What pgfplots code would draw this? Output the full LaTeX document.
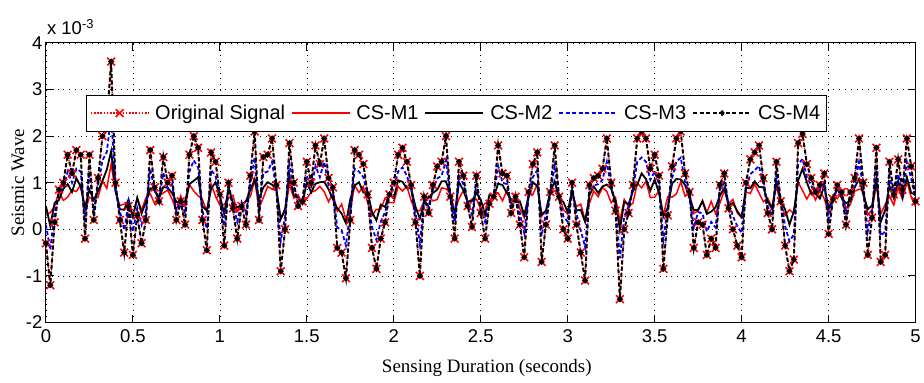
\documentclass[border=0pt]{standalone}
\usepackage{fontspec}
\setmainfont{Liberation Sans}
\newfontfamily\seriffont{Liberation Serif}
\usepackage{pgfplots}
\usepackage{pgfplotstable}
\pgfplotsset{compat=1.18}
\pgfplotstableread{
t O M1 M2 M3
0.000 -0.30 0.31 0.50 0.10
0.025 -1.20 0.36 0.07 -0.44
0.050 0.15 0.50 0.57 0.37
0.075 0.85 0.81 0.63 0.79
0.100 1.00 0.62 0.87 0.88
0.125 1.60 0.69 0.97 1.24
0.150 1.20 0.84 0.80 1.00
0.175 1.70 0.81 1.10 1.30
0.200 1.60 0.96 0.91 1.24
0.225 -0.20 0.38 0.47 0.16
0.250 1.60 0.69 0.85 1.24
0.275 0.20 0.64 0.63 0.40
0.300 1.10 0.69 0.82 0.94
0.325 2.00 1.04 1.04 1.48
0.350 2.30 0.88 1.28 1.66
0.375 3.60 1.40 1.68 2.44
0.400 1.00 0.80 0.83 0.88
0.425 0.20 0.51 0.43 0.40
0.450 -0.50 0.54 0.42 -0.02
0.475 0.50 0.52 0.64 0.58
0.500 -0.55 0.26 0.28 -0.05
0.525 0.30 0.66 0.68 0.46
0.550 -0.30 0.41 0.34 0.10
0.575 0.20 0.68 0.59 0.40
0.600 1.70 0.76 0.88 1.30
0.625 0.90 0.55 0.84 0.82
0.650 0.60 0.72 0.67 0.64
0.675 1.55 0.78 0.91 1.21
0.700 1.00 0.84 0.89 0.88
0.725 1.15 0.65 0.78 0.97
0.750 0.20 0.41 0.59 0.40
0.775 0.60 0.72 0.55 0.64
0.800 0.10 0.49 0.60 0.34
0.825 1.60 0.96 0.97 1.24
0.850 2.00 0.82 1.04 1.48
0.875 1.75 0.72 1.12 1.33
0.900 0.20 0.64 0.49 0.40
0.925 -0.45 0.38 0.40 0.01
0.950 1.65 0.97 0.87 1.27
0.975 1.45 0.71 1.01 1.15
1.000 0.75 0.52 0.72 0.73
1.025 -0.35 0.53 0.34 0.07
1.050 1.00 0.67 0.89 0.88
1.075 0.45 0.73 0.57 0.55
1.100 -0.20 0.38 0.47 0.16
1.125 0.50 0.47 0.52 0.58
1.150 0.10 0.62 0.60 0.34
1.175 1.15 0.70 0.84 0.97
1.200 2.10 1.06 1.07 1.54
1.225 0.20 0.46 0.65 0.40
1.250 1.55 0.68 0.90 1.21
1.275 1.60 0.92 1.01 1.24
1.300 1.95 0.86 0.96 1.45
1.325 0.95 0.83 0.86 0.85
1.350 -0.90 0.24 0.22 -0.26
1.375 0.00 0.37 0.44 0.28
1.400 1.85 0.97 1.15 1.39
1.425 1.00 0.67 0.73 0.88
1.450 0.50 0.74 0.68 0.58
1.475 0.60 0.54 0.55 0.64
1.500 1.45 0.66 1.01 1.15
1.525 1.00 0.80 0.79 0.88
1.550 1.80 0.83 0.98 1.36
1.575 1.40 0.92 1.01 1.12
1.600 1.95 0.81 1.02 1.45
1.625 1.10 0.59 0.86 0.94
1.650 0.90 0.78 0.64 0.82
1.675 -0.40 0.39 0.45 0.04
1.700 -0.50 0.54 0.34 -0.02
1.725 -1.05 0.21 0.13 -0.35
1.750 0.20 0.41 0.65 0.40
1.775 1.70 0.94 0.94 1.30
1.800 1.60 0.79 1.01 1.24
1.825 1.40 0.92 0.79 1.12
1.850 0.75 0.57 0.80 0.73
1.875 -0.40 0.29 0.37 0.04
1.900 -0.85 0.43 0.19 -0.23
1.925 -0.20 0.43 0.53 0.16
1.950 0.15 0.67 0.48 0.37
1.975 0.75 0.57 0.76 0.73
2.000 1.00 0.57 0.67 0.88
2.025 1.60 0.92 1.05 1.24
2.050 1.75 0.82 1.02 1.33
2.075 1.45 0.93 0.88 1.15
2.100 0.95 0.61 0.88 0.85
2.125 0.15 0.40 0.48 0.37
2.150 -1.00 0.40 0.23 -0.32
2.175 0.70 0.61 0.58 0.70
2.200 0.35 0.71 0.68 0.49
2.225 0.95 0.61 0.78 0.85
2.250 1.35 0.64 0.85 1.09
2.275 1.45 0.89 1.03 1.15
2.300 2.00 0.87 1.03 1.48
2.325 0.70 0.78 0.74 0.70
2.350 -0.20 0.38 0.31 0.16
2.375 1.45 0.66 1.01 1.15
2.400 1.15 0.83 0.84 0.97
2.425 0.50 0.57 0.59 0.58
2.450 0.05 0.65 0.61 0.31
2.475 1.15 0.65 0.78 0.97
2.500 0.35 0.44 0.64 0.49
2.525 -0.20 0.56 0.31 0.16
2.550 0.55 0.58 0.74 0.61
2.575 0.70 0.78 0.70 0.70
2.600 1.80 0.78 0.98 1.36
2.625 1.20 0.61 0.95 1.00
2.650 1.15 0.83 0.78 0.97
2.675 0.35 0.54 0.64 0.49
2.700 0.70 0.78 0.58 0.70
2.725 0.10 0.44 0.60 0.34
2.750 -0.60 0.25 0.31 -0.08
2.775 0.80 0.76 0.68 0.76
2.800 1.40 0.75 1.01 1.12
2.825 1.65 0.97 0.93 1.27
2.850 -0.70 0.28 0.32 -0.14
2.875 0.10 0.39 0.40 0.34
2.900 0.80 0.76 0.81 0.76
2.925 1.80 0.83 1.03 1.36
2.950 0.70 0.78 0.65 0.70
2.975 0.00 0.42 0.59 0.28
3.000 -0.20 0.33 0.37 0.16
3.025 1.00 0.80 0.83 0.88
3.050 0.10 0.49 0.40 0.34
3.075 -0.50 0.54 0.42 -0.02
3.100 -1.10 0.20 0.16 -0.38
3.125 0.95 0.56 0.73 0.85
3.150 1.10 0.82 0.92 0.94
3.175 1.15 0.70 0.78 0.97
3.200 1.30 0.90 0.92 1.06
3.225 1.95 0.81 0.96 1.45
3.250 1.00 0.57 0.87 0.88
3.275 0.40 0.68 0.61 0.52
3.300 -1.50 0.17 -0.01 -0.62
3.325 0.00 0.64 0.59 0.28
3.350 0.35 0.49 0.54 0.49
3.375 0.95 0.56 0.82 0.85
3.400 1.95 0.99 0.96 1.45
3.425 2.10 0.89 1.20 1.54
3.450 1.95 1.03 1.08 1.45
3.475 1.30 0.68 0.83 1.06
3.500 1.60 0.69 1.07 1.24
3.525 1.15 0.83 0.78 0.97
3.550 -0.85 0.30 0.28 -0.23
3.575 0.30 0.70 0.46 0.46
3.600 1.35 0.69 0.98 1.09
3.625 1.95 0.76 1.08 1.45
3.650 2.10 1.02 1.07 1.54
3.675 1.20 0.71 0.95 1.00
3.700 0.80 0.80 0.67 0.76
3.725 -0.40 0.34 0.41 0.04
3.750 0.15 0.40 0.42 0.37
3.775 0.10 0.62 0.60 0.34
3.800 -0.55 0.36 0.33 -0.05
3.825 -0.20 0.60 0.38 0.16
3.850 -0.40 0.34 0.47 0.04
3.875 0.95 0.56 0.72 0.85
3.900 1.20 0.84 0.89 1.00
3.925 0.45 0.56 0.51 0.55
3.950 0.00 0.64 0.57 0.28
3.975 -0.35 0.35 0.39 0.07
4.000 -0.60 0.25 0.26 -0.08
4.025 1.00 0.80 0.89 0.88
4.050 1.50 0.77 0.88 1.18
4.075 1.65 0.97 1.03 1.27
4.100 1.80 0.78 0.91 1.36
4.125 1.10 0.59 0.90 0.94
4.150 0.35 0.67 0.60 0.49
4.175 0.00 0.47 0.44 0.28
4.200 1.45 0.93 1.03 1.15
4.225 0.60 0.54 0.61 0.64
4.250 -0.35 0.30 0.43 0.07
4.275 -0.90 0.42 0.10 -0.26
4.300 -0.65 0.34 0.38 -0.11
4.325 1.85 1.01 1.05 1.39
4.350 2.05 0.83 1.30 1.51
4.375 1.40 0.65 1.01 1.12
4.400 1.10 0.82 0.76 0.94
4.425 0.80 0.63 0.77 0.76
4.450 0.95 0.83 0.66 0.85
4.475 1.20 0.66 0.93 1.00
4.500 -0.10 0.35 0.46 0.22
4.525 0.65 0.73 0.64 0.67
4.550 0.95 0.66 0.88 0.85
4.575 0.80 0.80 0.67 0.76
4.600 0.10 0.44 0.56 0.34
4.625 0.80 0.53 0.61 0.76
4.650 1.10 0.82 0.90 0.94
4.675 1.95 0.86 1.08 1.45
4.700 1.00 0.84 0.74 0.88
4.725 -0.55 0.31 0.43 -0.05
4.750 0.25 0.42 0.51 0.43
4.775 1.75 0.95 1.06 1.33
4.800 -0.70 0.33 0.16 -0.14
4.825 -0.55 0.53 0.41 -0.05
4.850 1.45 0.71 0.93 1.15
4.875 0.75 0.52 0.67 0.73
4.900 1.50 0.90 1.04 1.18
4.925 0.85 0.64 0.69 0.79
4.950 1.95 1.03 1.12 1.45
4.975 1.35 0.69 0.78 1.09
5.000 0.60 0.49 0.75 0.64
}\sigdata
\begin{document}
\begin{tikzpicture}
\path (-46bp,-60bp) rectangle (878bp,323bp);
\begin{axis}[
  name=ax,
  scale only axis, width=871bp, height=280bp,
  xmin=0, xmax=5, ymin=-2, ymax=4,
  xtick={0,0.5,1,1.5,2,2.5,3,3.5,4,4.5,5},
  xticklabels={0,0.5,1,1.5,2,2.5,3,3.5,4,4.5,5},
  ytick={-2,-1,0,1,2,3,4},
  yticklabels={-2,-1,0,1,2,3,4},
  tick align=inside, tick pos=both, major tick length=8bp,
  grid=major,
  grid style={black, line width=0.6bp, dash pattern=on 0.8bp off 5bp},
  axis line style={line width=0.9bp},
  every tick/.style={black, line width=0.9bp},
  tick label style={font=\fontsize{18.5bp}{20bp}\selectfont},
  xticklabel style={yshift=-4bp},
  xlabel={Sensing Duration (seconds)},
  ylabel={Seismic Wave},
  label style={font=\seriffont\fontsize{19bp}{22bp}\selectfont},
  xlabel style={at={(axis description cs:0.507,-0.161)}, anchor=center},
  ylabel style={at={(axis description cs:-0.032,0.5)}, anchor=center},
  legend columns=5,
  legend style={at={(rel axis cs:0.0459,0.814)}, anchor=north west,
    font=\fontsize{20bp}{24bp}\selectfont,
    fill=white, inner xsep=4bp, inner ysep=8bp,
    /tikz/every even column/.append style={column sep=4bp}},
]
\addplot[color=red, draw=red, line width=1.2bp, dash pattern=on 1.4bp off 1.6bp, mark=x, mark size=5.5bp, mark options={solid, draw=red, line width=1.6bp},
  legend image code/.code={\draw[red, line width=1.4bp, dash pattern=on 1.6bp off 1.6bp] (0bp,0bp) -- (58bp,0bp);
    \draw[red, solid, line width=1.6bp, mark=x, mark size=5.5bp, only marks] plot coordinates {(29bp,0bp)}; \path (62bp,0bp);}]
  table[x=t,y=O] {\sigdata};
\addlegendentry{Original Signal}
\addplot[color=red, draw=red, line width=1.5bp,
  legend image code/.code={\draw[red, solid, line width=1.5bp] (0bp,0bp) -- (58bp,0bp); \path (62bp,0bp);}]
  table[x=t,y=M1] {\sigdata};
\addlegendentry{CS-M1}
\addplot[color=black, draw=black, line width=1.8bp,
  legend image code/.code={\draw[black, solid, line width=1.8bp] (0bp,0bp) -- (58bp,0bp); \path (62bp,0bp);}]
  table[x=t,y=M2] {\sigdata};
\addlegendentry{CS-M2}
\addplot[color=blue, draw=blue, line width=1.8bp, dash pattern=on 4bp off 2.5bp,
  legend image code/.code={\draw[blue, line width=1.8bp, dash pattern=on 4bp off 2.5bp] (0bp,0bp) -- (58bp,0bp); \path (62bp,0bp);}]
  table[x=t,y=M3] {\sigdata};
\addlegendentry{CS-M3}
\addplot[color=black, draw=black, line width=2bp, dash pattern=on 4bp off 2.5bp, mark=*, mark size=1.8bp, mark options={solid, draw=black, fill=black},
  legend image code/.code={\draw[black, line width=2bp, dash pattern=on 4bp off 2.5bp] (0bp,0bp) -- (58bp,0bp);
    \fill[black] (29bp,0bp) circle[radius=1.8bp]; \path (62bp,0bp);}]
  table[x=t,y=O] {\sigdata};
\addlegendentry{CS-M4}
\end{axis}
\node[anchor=base west, inner sep=0pt, font=\fontsize{18.5bp}{20bp}\selectfont] at ([xshift=1bp,yshift=8bp]ax.north west) {x 10\textsuperscript{-3}};
\end{tikzpicture}
\end{document}
